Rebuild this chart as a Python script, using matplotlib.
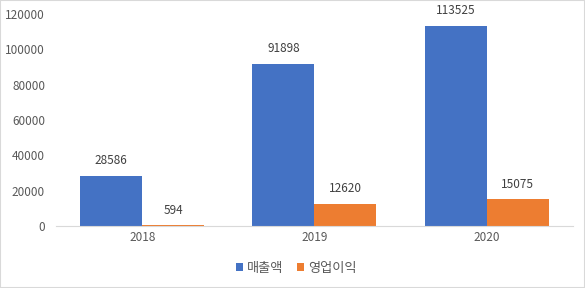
import numpy as np
import matplotlib
matplotlib.use('Agg')
import matplotlib.pyplot as plt

plt.rcParams['font.family'] = ['Noto Sans CJK KR', 'DejaVu Sans']

years = ['2018', '2019', '2020']
sales = [28586, 91898, 113525]
profit = [594, 12620, 15075]

blue = '#4472C4'
orange = '#ED7D31'
gray = '#595959'

fig = plt.figure(figsize=(5.85, 2.88), dpi=100)
ax = fig.add_axes([0.096, 0.215, 0.883, 0.736])

x = np.arange(len(years))
w = 0.36
b1 = ax.bar(x - w / 2, sales, w, color=blue, label='매출액')
b2 = ax.bar(x + w / 2, profit, w, color=orange, label='영업이익')

for bars in (b1, b2):
    for r in bars:
        ax.annotate(str(int(r.get_height())), (r.get_x() + r.get_width() / 2, r.get_height()),
                    xytext=(0, 6), textcoords='offset points', ha='center', va='bottom',
                    fontsize=8.5, color='#404040')

ax.set_xlim(-0.5, 2.5)
ax.set_ylim(0, 120000)
ax.set_yticks(range(0, 120001, 20000))
ax.set_xticks(x)
ax.set_xticklabels(years)
ax.tick_params(length=0, labelsize=8.5, labelcolor=gray)
ax.tick_params(axis='y', pad=8)
for s in ['top', 'right', 'left']:
    ax.spines[s].set_visible(False)
ax.spines['bottom'].set_color('#D9D9D9')

ax.legend(loc='center', bbox_to_anchor=(0.465, -0.2), ncol=2, frameon=False,
          fontsize=9.5, handlelength=0.55, handleheight=0.55, handletextpad=0.3,
          columnspacing=1.0, labelcolor=gray)

fig.patches.append(plt.Rectangle((0, 0), 1, 1, transform=fig.transFigure,
                                 fill=False, edgecolor='#D9D9D9', linewidth=1.5))

fig.savefig('out.png', dpi=100)
